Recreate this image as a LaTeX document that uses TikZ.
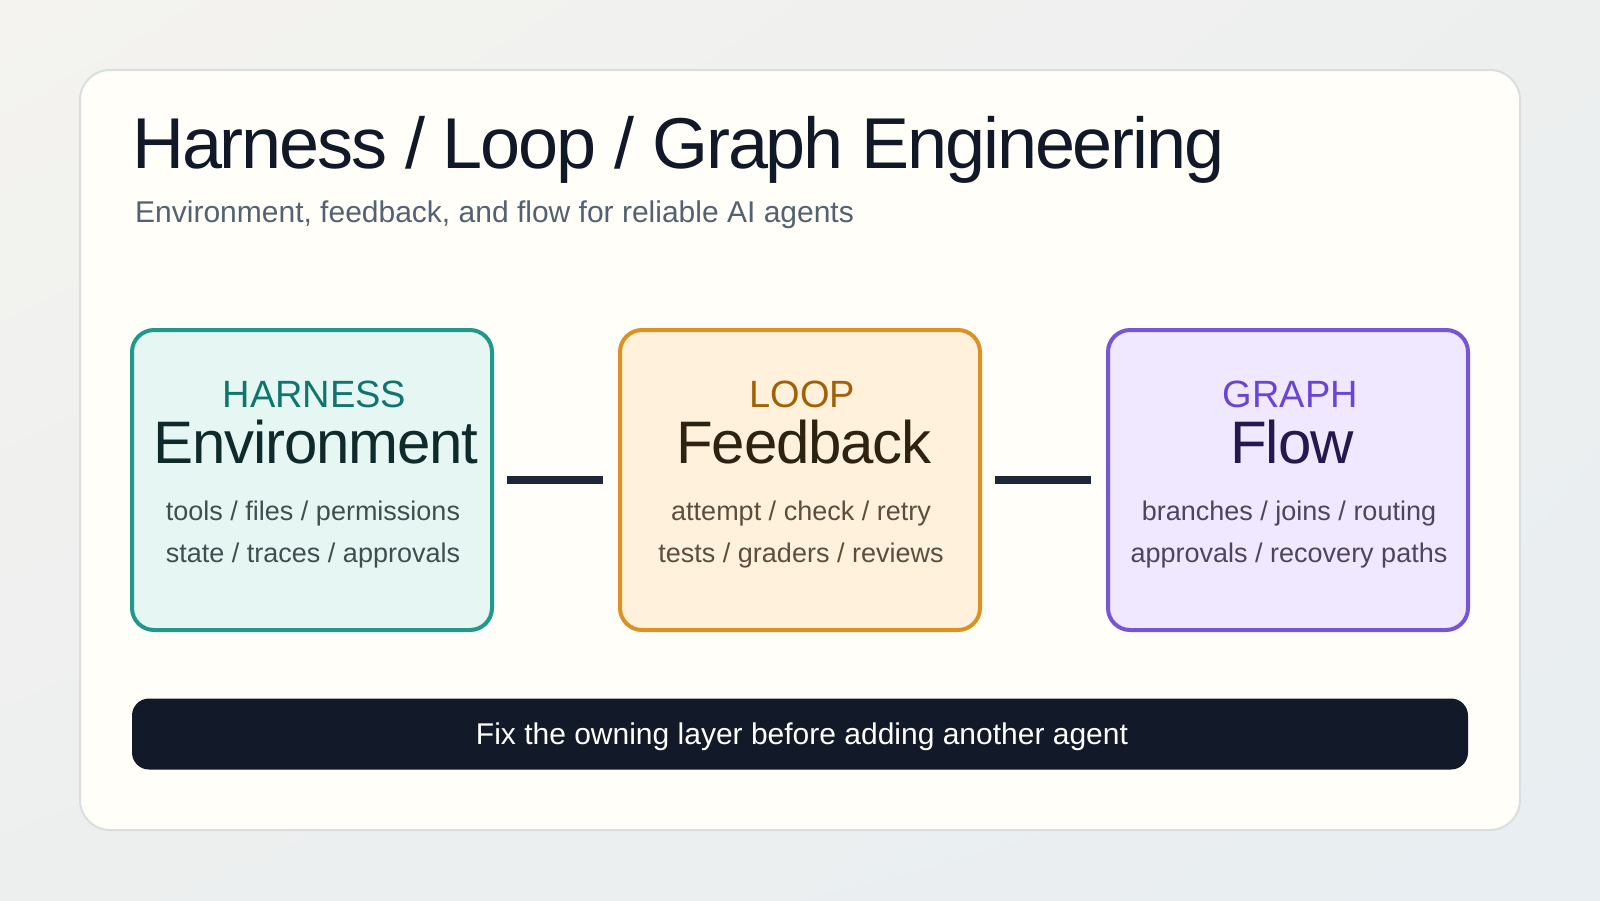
\documentclass[tikz,border=0pt]{standalone}
\usepackage{fontspec}
\usetikzlibrary{shadings}
\setmainfont{Liberation Sans}
\newfontfamily\tightfont[LetterSpace=-2]{Liberation Sans}
\newfontfamily\titlefont[LetterSpace=-3]{Liberation Sans}
\definecolor{bgA}{HTML}{F4F3EF}
\definecolor{bgB}{HTML}{E8EEF2}
\definecolor{bgM}{HTML}{EDEFEF}
\definecolor{cardfill}{HTML}{FFFEF9}
\definecolor{cardline}{HTML}{D9DFDF}
\definecolor{ink}{HTML}{111827}
\definecolor{subink}{HTML}{536170}
\definecolor{conn}{HTML}{1E2739}
\definecolor{tealline}{HTML}{20998A}
\definecolor{tealfill}{HTML}{E6F7F3}
\definecolor{tealtag}{HTML}{0F766E}
\definecolor{tealhead}{HTML}{0F2A2A}
\definecolor{tealtext}{HTML}{3E4F50}
\definecolor{orgline}{HTML}{DA9322}
\definecolor{orgfill}{HTML}{FFF1DC}
\definecolor{orgtag}{HTML}{A16207}
\definecolor{orghead}{HTML}{2E2211}
\definecolor{orgtext}{HTML}{5A4E3F}
\definecolor{purline}{HTML}{7655D6}
\definecolor{purfill}{HTML}{F0E8FF}
\definecolor{purtag}{HTML}{6A45D2}
\definecolor{purhead}{HTML}{24184F}
\definecolor{purtext}{HTML}{4B4560}
\definecolor{barfill}{HTML}{121928}
\tikzset{
  layerbox/.style={draw, line width=4pt, rounded corners=22pt, minimum width=360pt, minimum height=300pt, inner sep=0pt},
  tagtext/.style={anchor=base, inner sep=0pt, xshift=2.5pt, font=\fontsize{38}{40}\selectfont},
  headtext/.style={anchor=base, inner sep=0pt, xshift=4pt, font=\tightfont\fontsize{60}{66}\selectfont},
  detailtext/.style={anchor=base, inner sep=0pt, xshift=1pt, font=\fontsize{27}{30}\selectfont},
  connector/.style={line width=8pt, conn, shorten <=13pt, shorten >=15pt},
}
\begin{document}
\begin{tikzpicture}[x=1pt,y=-1pt]
\useasboundingbox (0,0) rectangle (1600,900);
\shade[upper left=bgA, upper right=bgM, lower left=bgM, lower right=bgB] (0,0) rectangle (1600,900);
\draw[cardline, fill=cardfill, line width=2pt, rounded corners=30pt] (80,70) rectangle (1520,830);

\node[anchor=base west, inner sep=0pt, text=ink, font=\titlefont\fontsize{72}{80}\selectfont] (title) at (132,168) {Harness / Loop / Graph Engineering};
\node[anchor=base west, inner sep=0pt, text=subink, font=\fontsize{30}{34}\selectfont] (subtitle) at (135,222) {Environment, feedback, and flow for reliable AI agents};

\node[layerbox, draw=tealline, fill=tealfill] (harness) at (312,480) {};
\node[layerbox, draw=orgline, fill=orgfill] (loop) at (800,480) {};
\node[layerbox, draw=purline, fill=purfill] (graph) at (1288,480) {};

\node[tagtext, text=tealtag] (htag) at (312,407) {HARNESS};
\node[headtext, text=tealhead] (hhead) at (312,463) {Environment};
\node[detailtext, text=tealtext] (hl1) at (312,520) {tools / files / permissions};
\node[detailtext, text=tealtext] (hl2) at (312,562) {state / traces / approvals};

\node[tagtext, text=orgtag] (ltag) at (800,407) {LOOP};
\node[headtext, text=orghead] (lhead) at (800,463) {Feedback};
\node[detailtext, text=orgtext] (ll1) at (800,520) {attempt / check / retry};
\node[detailtext, text=orgtext] (ll2) at (800,562) {tests / graders / reviews};

\node[tagtext, text=purtag] (gtag) at (1288,407) {GRAPH};
\node[headtext, text=purhead] (ghead) at (1288,463) {Flow};
\node[detailtext, text=purtext] (gl1) at (1288,520) {branches / joins / routing};
\node[detailtext, text=purtext] (gl2) at (1288,562) {approvals / recovery paths};

\draw[connector] (harness.east) -- (loop.west);
\draw[connector] (loop.east) -- (graph.west);

\node[fill=barfill, rounded corners=17pt, minimum width=1336pt, minimum height=71pt, inner sep=0pt] (bar) at (800,734) {};
\node[anchor=base, inner sep=0pt, xshift=2pt, text=white, font=\fontsize{30}{34}\selectfont] (bartext) at (800,744) {Fix the owning layer before adding another agent};
\end{tikzpicture}
\end{document}
